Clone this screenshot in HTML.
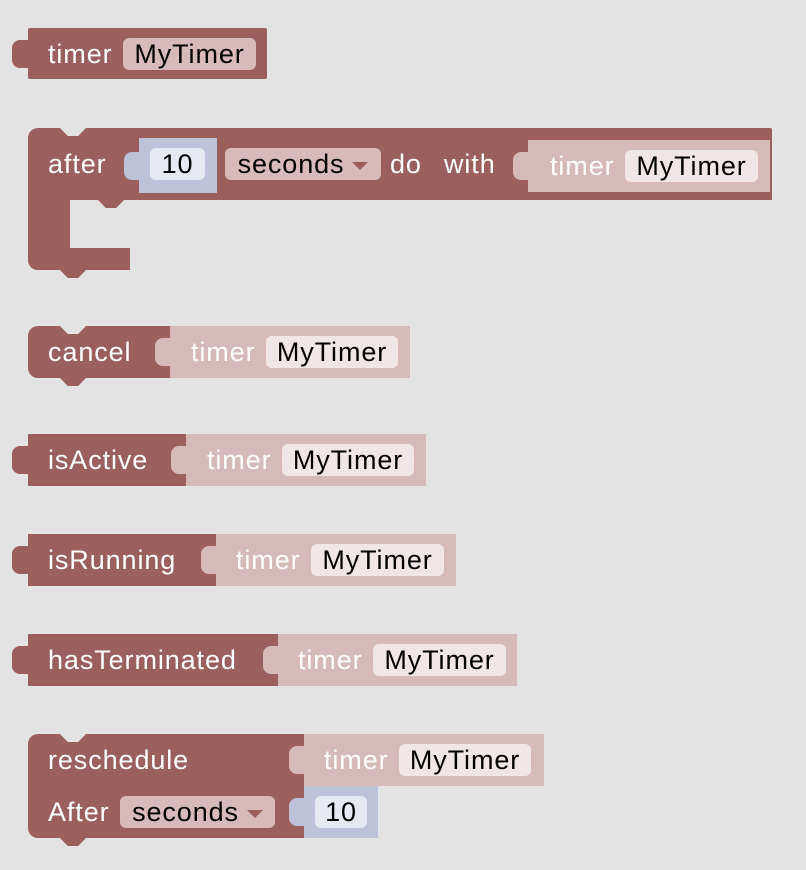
<!DOCTYPE html>
<html><head><meta charset="utf-8"><style>
body{margin:0;width:806px;height:870px;background:#e3e3e3;position:relative;overflow:hidden;font-family:"Liberation Sans",sans-serif;}
.a{position:absolute;box-sizing:border-box;}
.d{background:#9b5f5e;}
.l{background:#d6baba;}
.n{background:#bec2d8;}
.t{position:absolute;font-size:27px;letter-spacing:0.9px;line-height:32px;color:#fff;white-space:nowrap;}
.f{position:absolute;font-size:27px;letter-spacing:0.9px;line-height:32px;color:#000;border-radius:6px;text-align:center;white-space:nowrap;box-sizing:border-box;}
.fd{background:#d7bab9;}
.fl{background:#f1e6e6;}
.fn{background:#e6e8f2;}
.tab{position:absolute;width:16px;height:28px;border-radius:8px 0 0 8px;}
.notch{position:absolute;width:26px;height:8px;background:#e3e3e3;clip-path:polygon(0 0,100% 0,70% 100%,30% 100%);}
.bump{position:absolute;width:26px;height:8px;background:#9b5f5e;clip-path:polygon(0 0,100% 0,70% 100%,30% 100%);}
.arrow{display:inline-block;width:0;height:0;border-left:8px solid transparent;border-right:8px solid transparent;border-top:8px solid #9b5f5e;vertical-align:middle;margin-left:8px;}
</style></head><body>

<div class="tab d" style="left:12px;top:40px"></div>
<div class="a d" style="left:28px;top:28px;width:239px;height:51px;border-radius:2px"></div>
<div class="t" style="left:48px;top:38px">timer</div>
<div class="f fd" style="left:123px;top:38px;width:133px">MyTimer</div>

<div class="a d" style="left:28px;top:128px;width:744px;height:72px;border-radius:10px 2px 0 0"></div>
<div class="notch" style="left:60px;top:128px"></div>
<div class="a d" style="left:28px;top:198px;width:42px;height:72px;border-radius:0 0 0 10px"></div>
<div class="a d" style="left:28px;top:248px;width:102px;height:22px;border-radius:0 0 0 10px"></div>
<div class="a" style="left:70px;top:200px;width:60px;height:48px;background:#e3e3e3;border-radius:10px 0 0 10px"></div>
<div class="bump" style="left:98px;top:200px"></div>
<div class="bump" style="left:60px;top:270px"></div>
<div class="t" style="left:48px;top:148px">after</div>
<div class="tab n" style="left:124px;top:152px"></div>
<div class="a n" style="left:139px;top:138px;width:78px;height:55px"></div>
<div class="f fn" style="left:150px;top:148px;width:55px">10</div>
<div class="f fd" style="left:225px;top:148px;width:156px">seconds<span class="arrow"></span></div>
<div class="t" style="left:390px;top:148px">do</div>
<div class="t" style="left:444px;top:148px">with</div>
<div class="tab l" style="left:513px;top:152px"></div>
<div class="a l" style="left:528px;top:140px;width:242px;height:52px"></div>
<div class="t" style="left:550px;top:150px">timer</div>
<div class="f fl" style="left:625px;top:150px;width:133px">MyTimer</div>

<div class="a d" style="left:28px;top:326px;width:142px;height:52px;border-radius:10px 0 0 10px"></div>
<div class="notch" style="left:60px;top:326px"></div>
<div class="bump" style="left:60px;top:378px"></div>
<div class="t" style="left:48px;top:336px">cancel</div>
<div class="tab l" style="left:155px;top:338px"></div>
<div class="a l" style="left:170px;top:326px;width:240px;height:52px"></div>
<div class="t" style="left:191px;top:336px">timer</div>
<div class="f fl" style="left:266px;top:336px;width:132px">MyTimer</div>

<div class="tab d" style="left:12px;top:446px"></div>
<div class="a d" style="left:28px;top:434px;width:158px;height:52px"></div>
<div class="t" style="left:48px;top:444px">isActive</div>
<div class="tab l" style="left:171px;top:446px"></div>
<div class="a l" style="left:186px;top:434px;width:240px;height:52px"></div>
<div class="t" style="left:207px;top:444px">timer</div>
<div class="f fl" style="left:282px;top:444px;width:132px">MyTimer</div>

<div class="tab d" style="left:12px;top:546px"></div>
<div class="a d" style="left:28px;top:534px;width:188px;height:52px"></div>
<div class="t" style="left:48px;top:544px">isRunning</div>
<div class="tab l" style="left:201px;top:546px"></div>
<div class="a l" style="left:216px;top:534px;width:240px;height:52px"></div>
<div class="t" style="left:236px;top:544px">timer</div>
<div class="f fl" style="left:311px;top:544px;width:133px">MyTimer</div>

<div class="tab d" style="left:12px;top:646px"></div>
<div class="a d" style="left:28px;top:634px;width:250px;height:52px"></div>
<div class="t" style="left:48px;top:644px">hasTerminated</div>
<div class="tab l" style="left:263px;top:646px"></div>
<div class="a l" style="left:278px;top:634px;width:239px;height:52px"></div>
<div class="t" style="left:298px;top:644px">timer</div>
<div class="f fl" style="left:373px;top:644px;width:133px">MyTimer</div>

<div class="a d" style="left:28px;top:734px;width:276px;height:104px;border-radius:10px 0 0 10px"></div>
<div class="notch" style="left:60px;top:734px"></div>
<div class="bump" style="left:60px;top:838px"></div>
<div class="t" style="left:48px;top:744px">reschedule</div>
<div class="tab l" style="left:289px;top:746px"></div>
<div class="a l" style="left:304px;top:734px;width:240px;height:52px"></div>
<div class="t" style="left:324px;top:744px">timer</div>
<div class="f fl" style="left:399px;top:744px;width:132px">MyTimer</div>
<div class="t" style="left:48px;top:796px">After</div>
<div class="f fd" style="left:120px;top:796px;width:155px">seconds<span class="arrow"></span></div>
<div class="tab n" style="left:289px;top:798px"></div>
<div class="a n" style="left:304px;top:786px;width:74px;height:52px"></div>
<div class="f fn" style="left:315px;top:796px;width:52px">10</div>

</body></html>
